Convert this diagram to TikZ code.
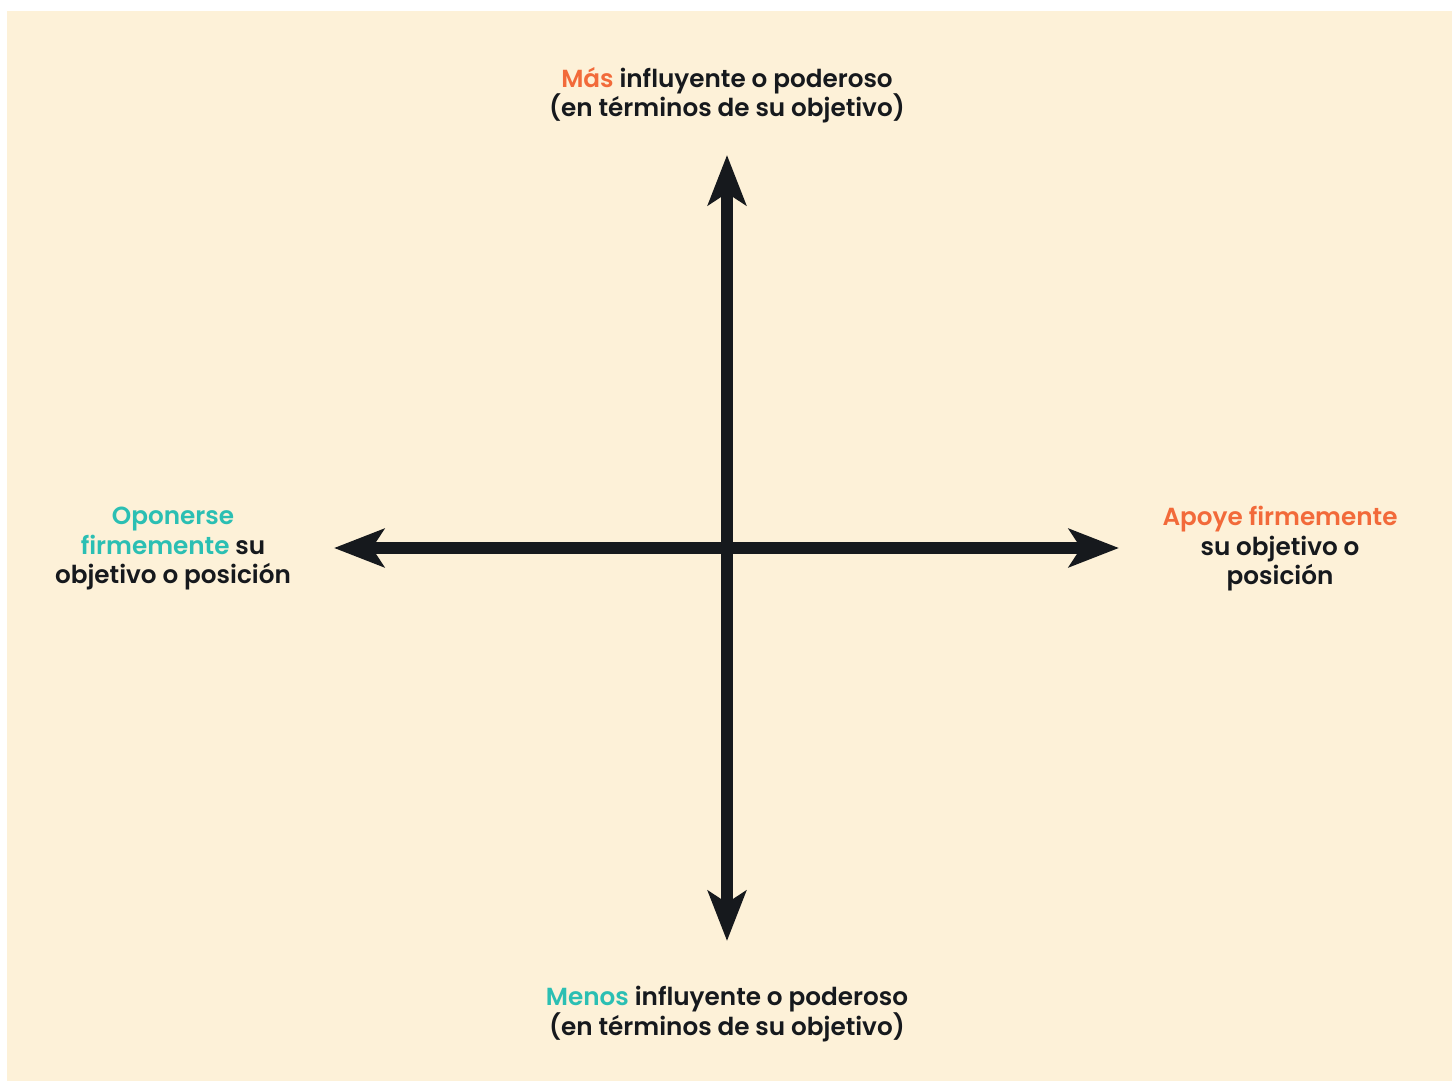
\documentclass[tikz,border=0pt]{standalone}
\usepackage{fontspec}
\setmainfont{Poppins}[BoldFont={Poppins SemiBold}]
\usetikzlibrary{arrows.meta}
\definecolor{bg}{HTML}{FDF1D8}
\definecolor{ink}{HTML}{16191D}
\definecolor{orng}{HTML}{F26A3A}
\definecolor{teal}{HTML}{2BBFB3}
\tikzset{
  axis/.style={draw=ink, line width=12pt, {Stealth[length=50pt,width=38pt,inset=12pt]}-{Stealth[length=50pt,width=38pt,inset=12pt]}},
  lbl/.style={font=\bfseries\fontsize{24.7}{29.5}\selectfont, text=ink, align=center, inner sep=0pt}
}
\begin{document}
\begin{tikzpicture}[x=1pt,y=-1pt]
\useasboundingbox (0,0) rectangle (1452,1081);
\fill[white] (0,0) rectangle (1452,1081);
\fill[bg] (7,11) rectangle (1452,1081);
\coordinate (T) at (727,155);
\coordinate (B) at (727,941);
\coordinate (L) at (334,548);
\coordinate (R) at (1119,548);
\draw[axis] (B) -- (T);
\draw[axis] (L) -- (R);
\node[lbl] (top) at (727,95) {\textcolor{orng}{Más} influyente o poderoso\\(en términos de su objetivo)};
\node[lbl] (bot) at (727,1014) {\textcolor{teal}{Menos} influyente o poderoso\\(en términos de su objetivo)};
\node[lbl] (left) at (173,549) {\textcolor{teal}{Oponerse}\\\textcolor{teal}{firmemente} su\\objetivo o posición};
\node[lbl] (right) at (1280,549) {\textcolor{orng}{Apoye firmemente}\\su objetivo o\\posición};
\end{tikzpicture}
\end{document}
